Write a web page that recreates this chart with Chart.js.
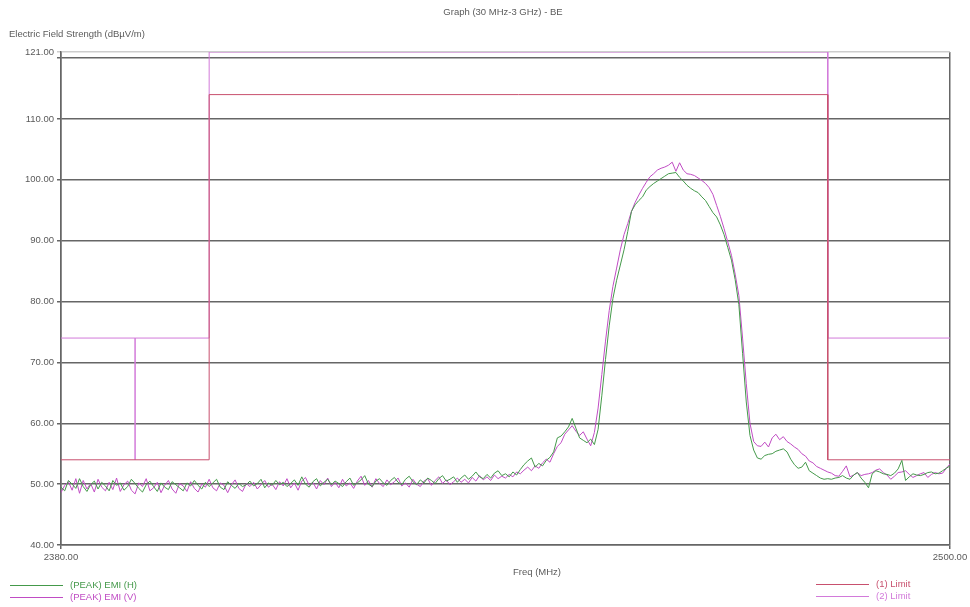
<!DOCTYPE html>
<html>
<head>
<meta charset="utf-8">
<script src="https://cdn.jsdelivr.net/npm/chart.js@4.4.1/dist/chart.umd.min.js"></script>
<style>
  html, body { margin: 0; padding: 0; background: #ffffff; }
  #wrap { width: 970px; height: 607px; position: relative; }
  canvas { display: block; }
</style>
</head>
<body>
<div id="wrap"><canvas id="emi" width="970" height="607"></canvas></div>
<script>
// Texts
const chartTitle = 'Graph (30 MHz-3 GHz) - BE';
const yAxisTitle = 'Electric Field Strength (dBµV/m)';
const xAxisTitle = 'Freq (MHz)';

// Sweep: 2380 MHz to 2500 MHz in 0.5 MHz steps (241 points)
const sweepStart = 2380;
const sweepStep = 0.5;

// (PEAK) EMI (H) in dBµV/m, one row per 5 MHz
const emiH = [
  49.5, 48.9, 50.6, 50.0, 49.3, 50.9, 49.6, 48.8, 49.9, 50.5,   // 2380
  49.2, 50.3, 49.7, 48.9, 50.6, 49.8, 50.2, 49.0, 49.6, 50.8,   // 2385
  50.1, 49.3, 48.7, 49.9, 50.5, 49.6, 48.8, 50.2, 49.5, 49.1,   // 2390
  50.4, 49.9, 49.4, 48.9, 50.2, 49.7, 50.6, 49.8, 49.2, 50.3,   // 2395
  49.6, 50.2, 50.8, 49.5, 49.1, 50.4, 49.8, 49.3, 50.1, 49.6,   // 2400
  49.9, 50.5, 49.7, 50.1, 50.8, 49.4, 50.2, 49.8, 50.6, 49.9,   // 2405
  50.3, 49.6, 50.1, 50.7, 49.8, 51.2, 50.0, 49.5, 50.4, 50.9,   // 2410
  49.7, 50.3, 50.8, 49.9, 50.5, 50.1, 49.6, 50.4, 51.0, 49.8,   // 2415
  50.2, 50.7, 51.4, 50.0, 49.6, 50.5, 50.9, 50.2, 49.8, 50.6,   // 2420
  51.1, 50.3, 49.9, 50.8, 51.3, 50.4, 49.9, 50.7, 50.2, 51.0,   // 2425
  50.6, 50.1, 50.9, 51.4, 50.5, 50.8, 51.2, 50.3, 51.0, 51.5,   // 2430
  50.8, 51.3, 52.0, 51.2, 50.9, 51.6, 51.0, 51.8, 52.2, 51.4,   // 2435
  51.7, 51.2, 52.0, 51.5, 52.4, 53.2, 53.8, 54.3, 52.8, 53.4,   // 2440
  53.0, 53.9, 54.4, 55.3, 57.6, 57.9, 58.6, 59.4, 60.8, 59.2,   // 2445
  57.6, 57.2, 56.8, 57.4, 56.5, 59.0, 64.5, 70.5, 76.0, 80.5,   // 2450
  83.5, 86.0, 88.5, 91.5, 94.8, 95.9, 96.6, 97.2, 98.3, 98.9,   // 2455
  99.4, 99.8, 100.2, 100.6, 101.0, 101.1, 101.2, 100.4, 99.8, 99.1, // 2460
  98.6, 98.2, 97.9, 97.2, 96.6, 95.6, 94.6, 93.9, 92.6, 91.0,   // 2465
  88.9, 86.8, 83.6, 79.5, 71.5, 63.5, 58.0, 55.6, 54.3, 54.1,   // 2470
  54.7, 54.9, 55.0, 55.4, 55.6, 55.8, 55.3, 54.1, 53.2, 52.6,   // 2475
  52.8, 53.6, 52.2, 51.8, 51.4, 51.0, 50.8, 50.9, 50.8, 51.0,   // 2480
  51.1, 51.4, 51.0, 50.8, 51.5, 51.9, 51.0, 50.3, 49.4, 51.7,   // 2485
  52.2, 52.0, 51.7, 51.6, 51.4, 51.8, 52.5, 53.9, 50.6, 51.2,   // 2490
  51.7, 51.5, 51.4, 51.6, 51.9, 52.0, 51.7, 51.8, 52.2, 52.6,   // 2495
  53.0                                                          // 2500
];

// (PEAK) EMI (V) in dBµV/m, one row per 5 MHz
const emiV = [
  48.6, 49.8, 50.4, 49.0, 50.9, 48.5, 50.6, 49.2, 50.1, 48.7,   // 2380
  50.8, 49.5, 48.9, 50.3, 49.1, 51.0, 48.8, 49.9, 50.5, 49.0,   // 2385
  48.4, 50.2, 49.6, 50.9, 48.9, 49.4, 50.3, 48.6, 49.8, 50.6,   // 2390
  49.2, 48.5, 50.1, 49.7, 48.8, 50.4, 49.3, 48.7, 50.0, 49.5,   // 2395
  50.8, 49.4, 48.9, 50.2, 49.8, 48.6, 49.9, 50.7, 49.3, 48.8,   // 2400
  50.1, 49.6, 50.3, 49.2, 49.9, 50.6, 49.5, 50.0, 49.1, 50.4,   // 2405
  49.7, 50.9, 49.4, 50.2, 49.0, 50.5, 51.1, 49.8, 50.3, 49.2,   // 2410
  50.6, 49.9, 51.0, 49.6, 50.3, 49.4, 50.8, 49.7, 50.2, 49.3,   // 2415
  50.5, 51.3, 49.8, 50.6, 49.5, 50.9, 50.1, 49.6, 50.7, 49.9,   // 2420
  50.4, 51.0, 49.7, 50.2, 49.5, 50.8, 50.0, 49.6, 50.5, 50.9,   // 2425
  49.8, 50.6, 51.2, 50.1, 50.7, 49.9, 50.4, 51.0, 50.3, 50.8,   // 2430
  50.2, 51.1, 50.5, 51.4, 50.7, 51.2, 50.6, 51.5, 50.9, 51.3,   // 2435
  51.0, 51.6, 51.2, 52.0, 51.7, 52.3, 52.8, 52.2, 53.0, 52.6,   // 2440
  53.5, 54.1, 53.6, 55.0, 56.2, 56.8, 58.2, 58.9, 59.6, 58.7,   // 2445
  58.0, 58.6, 57.4, 56.3, 58.5, 62.5, 68.0, 73.5, 78.5, 82.5,   // 2450
  85.5, 88.5, 91.0, 92.8, 94.8, 96.3, 97.5, 98.6, 99.6, 100.5,  // 2455
  101.0, 101.6, 101.9, 102.1, 102.4, 102.9, 101.4, 102.8, 101.6, 101.0, // 2460
  100.9, 100.7, 100.3, 99.9, 99.4, 98.7, 97.6, 95.8, 94.0, 92.0, // 2465
  89.8, 87.6, 84.5, 81.0, 74.0, 66.5, 60.0, 57.0, 56.3, 56.2,   // 2470
  56.9, 56.1, 57.6, 58.2, 57.3, 57.8, 57.0, 56.6, 56.1, 55.7,   // 2475
  55.0, 54.6, 53.8, 53.5, 52.9, 52.6, 52.3, 52.0, 51.8, 51.4,   // 2480
  51.3, 52.1, 53.0, 51.2, 51.5, 51.9, 51.4, 51.6, 51.7, 51.9,   // 2485
  52.3, 52.5, 51.9, 51.5, 50.8, 51.3, 51.9, 52.0, 52.2, 51.6,   // 2490
  51.1, 51.4, 51.7, 51.9, 51.1, 51.6, 51.9, 51.7, 51.8, 52.6,   // 2495
  53.3                                                          // 2500
];

// Limit lines (corner points in MHz / dBµV/m)
const limit1Freq  = [2380, 2400, 2400, 2483.5, 2483.5, 2500];
const limit1Level = [54, 54, 114, 114, 54, 54];
const limit2Freq  = [2380, 2390, 2390, 2390, 2400, 2400, 2483.5, 2483.5, 2500];
const limit2Level = [74, 74, 54, 74, 74, 121, 121, 74, 74];

// Axis ticks
const xTicks = [2380, 2500];
const yTicks = [40, 50, 60, 70, 80, 90, 100, 110, 120, 121];
const yLabelled = [40, 50, 60, 70, 80, 90, 100, 110, 121];

// Series colours
const colH = '#44994a';
const colV = '#c04cc4';
const colL1 = '#c8506e';
const colL2 = '#d27ada';

const sweepPoints = (levels) => levels.map((v, i) => ({ x: sweepStart + i * sweepStep, y: v }));
const cornerPoints = (freqs, levels) => freqs.map((f, i) => ({ x: f, y: levels[i] }));

const baseFont = { family: '"Liberation Sans", Arial, sans-serif', size: 9.5 };
const textGrey = '#5a5a5a';
const gridGrey = '#666666';

// Titles and the two legend blocks under the plot
const decorations = {
  id: 'decorations',
  afterDraw(chart) {
    const ctx = chart.ctx;
    ctx.save();
    ctx.font = '9.5px "Liberation Sans", Arial, sans-serif';
    ctx.textBaseline = 'middle';
    ctx.fillStyle = textGrey;
    ctx.textAlign = 'center';
    ctx.fillText(chartTitle, 503, 12);
    ctx.fillText(xAxisTitle, 537, 572);
    ctx.textAlign = 'left';
    ctx.fillText(yAxisTitle, 9, 34);

    const slots = [[10, 585], [10, 597], [816, 584], [816, 596]];
    chart.data.datasets.forEach((ds, i) => {
      const [x, y] = slots[i];
      const c = ds.legendColor;
      ctx.fillStyle = c;
      ctx.fillRect(x, y, 53, 1);
      ctx.fillText(ds.label, x + 60, y);
    });
    ctx.restore();
  }
};

new Chart(document.getElementById('emi'), {
  type: 'line',
  data: {
    datasets: [
      { label: '(PEAK) EMI (H)', data: sweepPoints(emiH), borderColor: colH, legendColor: colH, borderWidth: 1 },
      { label: '(PEAK) EMI (V)', data: sweepPoints(emiV), borderColor: colV, legendColor: colV, borderWidth: 1 },
      { label: '(1) Limit', data: cornerPoints(limit1Freq, limit1Level), borderColor: colL1, legendColor: colL1, borderWidth: 1 },
      { label: '(2) Limit', data: cornerPoints(limit2Freq, limit2Level), borderColor: colL2, legendColor: colL2, borderWidth: 1 }
    ]
  },
  options: {
    responsive: false,
    animation: false,
    devicePixelRatio: 1,
    layout: { padding: { top: 52, right: 20, bottom: 0, left: 0 } },
    plugins: {
      legend: { display: false },
      title: { display: false },
      tooltip: { enabled: false }
    },
    elements: {
      point: { radius: 0, hoverRadius: 0 },
      line: { tension: 0, fill: false }
    },
    scales: {
      x: {
        type: 'linear',
        min: 2380,
        max: 2500,
        afterBuildTicks: (s) => { s.ticks = xTicks.map(v => ({ value: v })); },
        afterFit: (s) => { s.height = 62; s.paddingLeft = 0; s.paddingRight = 0; },
        ticks: {
          autoSkip: false,
          maxRotation: 0,
          padding: 3,
          color: textGrey,
          font: baseFont,
          callback: (v) => Number(v).toFixed(2)
        },
        grid: { color: gridGrey, lineWidth: 1.5, tickLength: 4 },
        border: { color: gridGrey, width: 1.5 }
      },
      y: {
        type: 'linear',
        min: 40,
        max: 121,
        afterBuildTicks: (s) => { s.ticks = yTicks.map(v => ({ value: v })); },
        afterFit: (s) => { s.width = 61; s.paddingTop = 0; s.paddingBottom = 0; },
        ticks: {
          autoSkip: false,
          padding: 3,
          color: textGrey,
          font: baseFont,
          callback: (v) => yLabelled.includes(v) ? Number(v).toFixed(2) : ''
        },
        grid: {
          color: (c) => (c.tick && c.tick.value === 121) ? '#cdcdcd' : gridGrey,
          lineWidth: 1.5,
          tickLength: 4
        },
        border: { color: gridGrey, width: 1.5 }
      }
    }
  },
  plugins: [decorations]
});
</script>
</body>
</html>
